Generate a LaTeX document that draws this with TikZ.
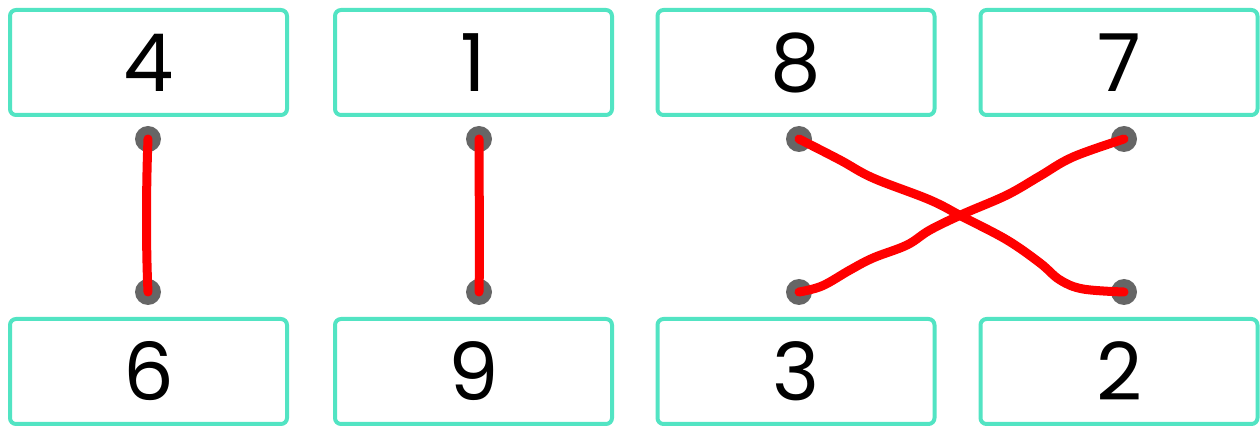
\documentclass[tikz,border=0pt]{standalone}
\usepackage{fontspec}
\setmainfont{Poppins}
\definecolor{turq}{HTML}{52E4C3}
\definecolor{dotgray}{HTML}{666666}
\definecolor{pen}{HTML}{FF0000}
\begin{document}
\begin{tikzpicture}[x=0.5pt,y=-0.5pt,
  card/.style={draw=turq,line width=2pt,rounded corners=3pt,fill=white,
    minimum width=138.5pt,minimum height=52.5pt,inner sep=0pt,
    font=\fontsize{40}{40}\selectfont},
  pin/.style={circle,fill=dotgray,minimum size=13pt,inner sep=0pt},
  wire/.style={draw=pen,line width=4.5pt,line cap=round,line join=round}]
\useasboundingbox (0,0) rectangle (1260,427);
% cards
\node[card] (a4) at (148.5,62.5) {4};
\node[card] (a1) at (473.5,62.5) {1};
\node[card] (a8) at (796,62.5) {8};
\node[card] (a7) at (1119,62.5) {7};
\node[card] (b6) at (148.5,371.5) {6};
\node[card] (b9) at (473.5,371.5) {9};
\node[card] (b3) at (796,371.5) {3};
\node[card] (b2) at (1119,371.5) {2};
% pins
\node[pin] (p4) at (148,139) {};
\node[pin] (p1) at (479,139) {};
\node[pin] (p8) at (799,139) {};
\node[pin] (p7) at (1124,139) {};
\node[pin] (q6) at (148,292) {};
\node[pin] (q9) at (479,292) {};
\node[pin] (q3) at (799,292) {};
\node[pin] (q2) at (1124,292) {};
% wires
\draw[wire] (p4.center) .. controls (146,190) and (146,250) .. (q6.center);
\draw[wire] (p1.center) .. controls (479,190) and (480,250) .. (q9.center);
\draw[wire] plot[smooth,tension=0.6] coordinates {(p8.center) (840,160) (873,178) (930,200) (963,217) (1007,240) (1040,263) (1060,280) (1083,289) (q2.center)};
\draw[wire] plot[smooth,tension=0.6] coordinates {(q3.center) (822,286) (850,270) (873,258) (907,245) (930,230) (963,214) (1007,195) (1040,176) (1073,157) (p7.center)};
\end{tikzpicture}
\end{document}
